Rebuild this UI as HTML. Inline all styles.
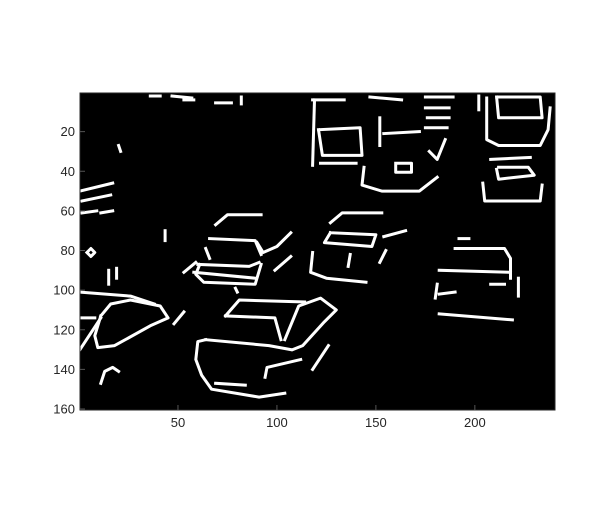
<!DOCTYPE html>
<html><head><meta charset="utf-8"><style>
body{margin:0;background:#fff;}
svg{display:block;font-family:"Liberation Sans",sans-serif;}
</style></head><body>
<svg id="chart" width="614" height="522" viewBox="0 0 614 522">
<rect x="0" y="0" width="614" height="522" fill="#fff"/>
<g id="img"></g>
<g id="axes"></g>
</svg>
<script>
const xTicks=[50,100,150,200];
const yTicks=[20,40,60,80,100,120,140,160];
const imgCols=240, imgRows=160;
const edges=[
[[0.5,101],[26,103],[38,107]],
[[11,113],[16,107],[26,105],[41,108],[45,114],[36,118],[18,128],[9.5,129],[8,123],[11,113]],
[[0.5,130],[11,114]],
[[0.5,114],[8,114]],
[[11,147],[13,141],[17,139],[20,141]],
[[48,117],[53,111]],
[[74,113],[81,105],[114,106]],
[[74,113],[99,114],[102,125]],
[[64,125],[96,128],[107,130]],
[[64,125],[60,126],[59,135],[62,143],[67,150],[91,154],[104,152]],
[[69,147],[84,148]],
[[104,125],[111,108],[122,104],[130,110],[124,116],[113,128],[108,130]],
[[94,144],[95,139],[112,135]],
[[118,140],[126,128]],
[[69,67],[75,62],[92,62]],
[[66,74],[89,75],[92,82]],
[[60,87],[86,88],[91,86]],
[[58,91],[89,94]],
[[61,87],[59,92],[63,96],[89,97],[92,87]],
[[90,76],[93,81],[100,78],[107,71]],
[[53,91],[59,86]],
[[99,90],[107,83]],
[[64,79],[66,84]],
[[79,99],[80,101]],
[[127,66],[133,61],[153,61]],
[[127,71],[150,72],[148,78],[124,76],[127,71]],
[[118,81],[117,91],[125,94],[145,96]],
[[154,73],[165,70]],
[[152,86],[155,80]],
[[136,88],[137,82]],
[[190,79],[215,79],[218,84],[218,94]],
[[182,90],[218,91]],
[[181,97],[180,104]],
[[182,112],[219,115]],
[[182,102],[190,101]],
[[208,97],[215,97]],
[[222,94],[222,103]],
[[192,74],[197,74]],
[[118,4],[134,4]],
[[119,4],[118,37]],
[[121,19],[142,18],[143,32],[123,32],[121,19]],
[[122,36],[140,36]],
[[144,38],[143,47],[153,50],[172,50],[181,43]],
[[160,36],[168,36],[168,40.5],[160,40.5],[160,36]],
[[154,21],[172,20]],
[[147,2.5],[163,4]],
[[175,2.5],[189,2.5]],
[[175,8],[187,8]],
[[176,13],[187,13]],
[[175,18],[186,18]],
[[177,30],[181,34],[185,24]],
[[152,13],[152,27]],
[[211,2.5],[233,2.5],[234,13],[212,13],[211,2.5]],
[[206,3],[206,24],[212,27],[233,27],[237,19],[238,8]],
[[208,34],[228,33]],
[[212,38],[227,38],[230,42],[212,44],[211,39]],
[[204,46],[205,55],[233,55],[234,47]],
[[202,2],[202,9]],
[[0.5,50],[17,46]],
[[1.5,55],[16,52]],
[[1.5,61],[9,60]],
[[11,61],[17,60]],
[[4,81],[6,79],[8,81],[6,83],[4,81]],
[[20,27],[21,30]],
[[43.5,70],[43.5,75]],
[[15,90],[15,97]],
[[19,89],[19,94]],
[[36,2],[41,2]],
[[47,2],[57,3]],
[[69,5.5],[77,5.5]],
[[82,2.5],[82,6]],
[[53,4],[58,4]]
];
const L=80,R=555,T=93,B=410;
function sx(c){return L+(c-0.5)*(R-L)/imgCols;}
function sy(r){return T+(r-0.5)*(B-T)/imgRows;}
const NS="http://www.w3.org/2000/svg";
const img=document.getElementById('img');
const bg=document.createElementNS(NS,'rect');
bg.setAttribute('x',L);bg.setAttribute('y',T);bg.setAttribute('width',R-L);bg.setAttribute('height',B-T);bg.setAttribute('fill','#000');


img.appendChild(bg);
edges.forEach(function(e){
  const p=document.createElementNS(NS,'polyline');
  p.setAttribute('points',e.map(function(q){return sx(q[0]).toFixed(1)+','+sy(q[1]).toFixed(1);}).join(' '));
  p.setAttribute('fill','none');p.setAttribute('stroke','#fff');p.setAttribute('stroke-width','3');
  p.setAttribute('stroke-linejoin','round');p.setAttribute('stroke-linecap','square');
  
  
  img.appendChild(p);
});
const ax=document.getElementById('axes');
const box=document.createElementNS(NS,'rect');
box.setAttribute('x',L);box.setAttribute('y',T);box.setAttribute('width',R-L);box.setAttribute('height',B-T);
box.setAttribute('fill','none');box.setAttribute('stroke','#262626');box.setAttribute('stroke-width','1');


ax.appendChild(box);
xTicks.forEach(function(v){
  const x=sx(v);
  const t=document.createElementNS(NS,'line');
  t.setAttribute('x1',x);t.setAttribute('x2',x);t.setAttribute('y1',B);t.setAttribute('y2',B-5);t.setAttribute('stroke','#555');
  
  
  ax.appendChild(t);
  const tx=document.createElementNS(NS,'text');
  tx.setAttribute('x',x);tx.setAttribute('y',B+17);tx.setAttribute('text-anchor','middle');tx.setAttribute('font-size','13');tx.setAttribute('fill','#262626');
  tx.textContent=v;
  
  
  ax.appendChild(tx);
});
yTicks.forEach(function(v){
  const y=sy(v);
  const t=document.createElementNS(NS,'line');
  t.setAttribute('x1',L);t.setAttribute('x2',L+5);t.setAttribute('y1',y);t.setAttribute('y2',y);t.setAttribute('stroke','#555');
  
  
  ax.appendChild(t);
  const tx=document.createElementNS(NS,'text');
  tx.setAttribute('x',L-5);tx.setAttribute('y',y+4.5);tx.setAttribute('text-anchor','end');tx.setAttribute('font-size','13');tx.setAttribute('fill','#262626');
  tx.textContent=v;
  
  
  ax.appendChild(tx);
});
</script>
</body></html>
